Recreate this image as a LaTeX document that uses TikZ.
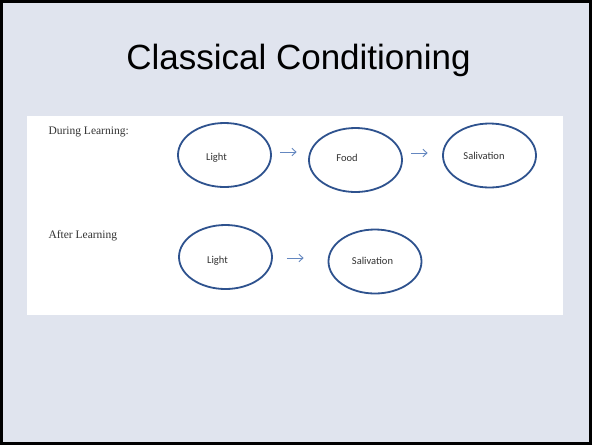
\documentclass[tikz,border=0pt]{standalone}
\usepackage{fontspec}
\setmainfont{Liberation Serif}
\newfontfamily\titolofont{Liberation Sans}
\newfontfamily\ovalefont{Carlito}
\usetikzlibrary{shapes.geometric,arrows.meta}
\definecolor{sfondo}{RGB}{224,228,238}
\definecolor{bordoblu}{RGB}{46,82,142}
\definecolor{frecciablu}{RGB}{100,135,192}
\definecolor{testogrigio}{RGB}{50,50,50}

\begin{document}
\begin{tikzpicture}[x=1pt,y=-1pt,
        ovale/.style={ellipse,draw=bordoblu,line width=1.8pt,minimum width=93pt,
            minimum height=64pt,inner sep=0pt},
        parola/.style={text=testogrigio,inner sep=0pt,
            font=\ovalefont\fontsize{10.5}{12}\selectfont},
        freccia/.style={draw=frecciablu,line width=0.9pt,
            -{Straight Barb[length=4pt,width=7.5pt]}},
        fase/.style={anchor=base west,text=testogrigio,
            font=\fontsize{11.5}{13}\selectfont}]
        % --- cornice della diapositiva ------------------------------------
        \useasboundingbox (0,0) rectangle (592,445);
        \fill[sfondo] (0,0) rectangle (592,445);
        \draw[line width=2.5pt] (1.5,1.5) rectangle (590.5,443.5);
        \node[anchor=base,font=\titolofont\fontsize{35}{40}\selectfont] (titolo)
            at (298.5,69) {Classical Conditioning};
        % --- riquadro bianco ----------------------------------------------
        \fill[white] (27,116) rectangle (563,315);
        \node[fase] (durante) at (45,134.5) {During Learning:};
        \node[fase] (dopo) at (45,238) {After Learning};
        % --- durante l'apprendimento --------------------------------------
        \node[ovale] (luce1) at (224.5,155) {};
        \node[ovale] (cibo) at (355.5,160) {};
        \node[ovale] (saliva1) at (489.5,155.5) {};
        \node[parola] (tluce1) at (216.5,158) {Light};
        \node[parola] (tcibo) at (347,158) {Food};
        \node[parola] (tsaliva1) at (484,156) {Salivation};
        \draw[freccia,shorten <=8pt,shorten >=11.5pt]
            ([yshift=3pt]luce1.east) -- ([yshift=8pt]cibo.west);
        \draw[freccia,shorten <=8.5pt,shorten >=14.5pt]
            ([yshift=7pt]cibo.east) -- ([yshift=2.5pt]saliva1.west);
        % --- dopo l'apprendimento -----------------------------------------
        \node[ovale] (luce2) at (225.5,257) {};
        \node[ovale] (saliva2) at (375,261.5) {};
        \node[parola] (tluce2) at (217.5,261) {Light};
        \node[parola] (tsaliva2) at (372.5,261) {Salivation};
        \draw[freccia,shorten <=14pt,shorten >=24pt]
            ([yshift=-1pt]luce2.east) -- ([yshift=3.5pt]saliva2.west);
    \end{tikzpicture}
\end{document}
